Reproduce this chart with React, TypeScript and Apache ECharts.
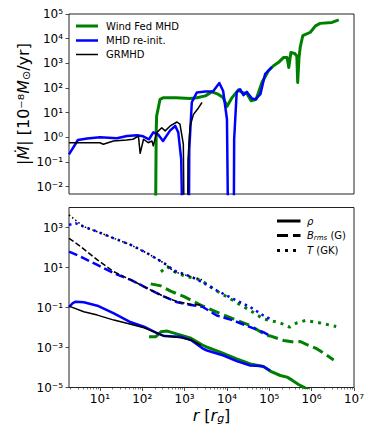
import React, { useEffect, useRef } from "react";
import * as echarts from "echarts";

// All values are log10 values: [log10 r (r_g), log10 quantity]
// ---- Top panel: |Mdot| [1e-8 Msun/yr] ----
const windMdot = [[2.31,-4],[2.33,0.33],[2.34,0.87],[2.42,1.54],[2.49,1.6],[2.8,1.6],[3.13,1.57],[3.29,1.6],[3.49,1.68],[3.64,1.84],[3.79,1.75],[3.91,1.61],[4.0,1.25],[4.12,1.61],[4.27,1.92],[4.35,1.82],[4.47,1.78],[4.57,1.48],[4.69,1.54],[4.83,2.24],[4.98,2.7],[5.1,2.9],[5.22,3.04],[5.34,3.24],[5.42,3.24],[5.46,2.83],[5.51,3.44],[5.6,3.4],[5.65,3.3],[5.67,2.22],[5.7,3.2],[5.73,3.65],[5.79,4.12],[5.97,4.26],[6.09,4.52],[6.2,4.62],[6.48,4.66],[6.64,4.76]];
const reinitMdot = [[0.27,-0.69],[0.48,-0.11],[0.7,-0.05],[1.0,0.0],[1.4,-0.04],[1.64,0.05],[1.88,0.08],[2.02,0.04],[2.16,-0.08],[2.26,0.2],[2.37,0.12],[2.49,-0.15],[2.66,0.28],[2.78,0.46],[2.85,0.2],[2.92,-0.9],[2.95,-4],[3.1,-4],[3.11,-0.49],[3.17,1.42],[3.29,1.82],[3.49,1.86],[3.67,1.86],[3.82,2.2],[3.91,1.88],[4.0,0.73],[4.03,-4],[4.16,-4],[4.17,-0.08],[4.23,1.83],[4.31,1.95],[4.39,1.71],[4.47,1.84],[4.59,1.57],[4.67,1.54],[4.79,1.75],[4.9,2.56],[5.06,2.85]];
const grmhdMdot = [[0.27,-0.22],[1.0,-0.22],[1.08,-0.28],[1.32,-0.15],[1.63,-0.11],[1.78,-0.08],[1.91,0.05],[1.95,-0.65],[2.03,-0.08],[2.14,-0.22],[2.23,-0.15],[2.26,-0.35],[2.34,0.19],[2.46,0.39],[2.54,0.26],[2.66,0.46],[2.82,0.62],[2.89,0.53],[2.97,-0.28],[2.99,-4],[3.07,-4],[3.08,-0.9],[3.13,0.46],[3.21,0.93],[3.33,1.2],[3.41,1.41]];

// ---- Bottom panel: rho, B_rms (G), T (GK) ----
const grmhdRho = [[0.27,-0.93],[0.62,-1.21],[0.94,-1.38],[1.33,-1.63],[1.73,-1.84],[2.04,-2.01],[2.36,-2.29],[2.52,-2.43],[2.91,-2.51],[3.15,-2.63],[3.38,-2.88]];
const grmhdB = [[0.27,2.46],[0.55,2.04],[0.94,1.38],[1.33,0.79],[1.73,0.38],[2.12,-0.04],[2.52,-0.46],[2.83,-0.71],[3.15,-0.84],[3.38,-0.88]];
const grmhdT = [[0.27,3.63],[0.62,3.04],[0.94,2.79],[1.33,2.46],[1.73,2.13],[2.12,1.71],[2.52,1.21],[2.75,0.79],[3.15,0.54],[3.42,0.38]];
const reinitRho = [[0.27,-0.97],[0.36,-0.78],[0.43,-0.71],[0.62,-0.74],[0.94,-0.91],[1.33,-1.29],[1.73,-1.74],[2.04,-1.96],[2.36,-2.29],[2.52,-2.43],[2.91,-2.46],[3.15,-2.63],[3.42,-3.04],[3.53,-3.15],[3.92,-3.4],[4.23,-3.68],[4.55,-3.9],[4.79,-3.92],[4.86,-3.95],[5.02,-4.15]];
const reinitB = [[0.27,1.79],[0.55,1.54],[0.94,1.13],[1.33,0.71],[1.73,0.38],[2.12,-0.04],[2.52,-0.46],[2.83,-0.74],[3.15,-0.88],[3.42,-0.96],[3.76,-1.4],[4.15,-1.65],[4.55,-1.98],[4.86,-2.23],[5.02,-2.42]];
const reinitT = [[0.27,3.13],[0.43,3.21],[0.62,3.04],[0.94,2.79],[1.33,2.46],[1.73,2.13],[2.12,1.71],[2.52,1.21],[2.75,0.85],[3.15,0.54],[3.42,0.26],[3.76,-0.15],[4.15,-0.57],[4.55,-0.98],[4.86,-1.4],[5.02,-1.57]];
const windRho = [[2.16,-2.46],[2.32,-2.46],[2.44,-2.21],[2.59,-2.18],[2.91,-2.38],[3.15,-2.54],[3.42,-2.88],[3.53,-2.98],[3.84,-3.23],[4.23,-3.57],[4.55,-3.82],[4.86,-3.95],[5.02,-4.18],[5.26,-4.4],[5.42,-4.48],[5.53,-4.62],[5.69,-4.85],[5.89,-5.07],[6.05,-5.3]];
const windB = [[2.2,0.18],[2.44,0.08],[2.67,-0.18],[2.99,-0.46],[3.38,-0.88],[3.76,-1.23],[4.15,-1.57],[4.55,-1.9],[4.94,-2.4],[5.02,-2.42],[5.34,-2.65],[5.57,-2.73],[5.73,-2.7],[5.85,-2.82],[6.13,-3.07],[6.52,-3.62]];
const windT = [[2.44,0.79],[2.59,1.04],[2.83,0.71],[3.07,0.54],[3.38,0.38],[3.68,-0.07],[4.08,-0.57],[4.55,-1.15],[4.86,-1.57],[5.26,-1.77],[5.48,-1.98],[5.65,-1.77],[5.85,-1.65],[6.2,-1.77],[6.58,-1.95]];

// Axis ranges (log10) and tick exponents
const X_RANGE = [0.27, 7];
const TOP_Y_RANGE = [-2.3, 5];
const BOT_Y_RANGE = [-5, 4];
const xTickExps = [1, 2, 3, 4, 5, 6, 7];
const topYTickExps = [-2, -1, 0, 1, 2, 3, 4, 5];
const botYTickExps = [-5, -3, -1, 1, 3];

const legendTop = ["Wind Fed MHD", "MHD re-init.", "GRMHD"];

const FONT = "DejaVu Sans";
const GREEN = "#008000";
const BLUE = "#0000ff";
const BLACK = "#000000";
const FRAME = "#222222";

const SUP: Record<string, string> = {
  "0": "⁰", "1": "¹", "2": "²", "3": "³", "4": "⁴", "5": "⁵", "6": "⁶", "7": "⁷", "8": "⁸", "9": "⁹", "-": "⁻",
};
const pow10 = (v: number) =>
  "10" + String(Math.round(v)).split("").map((c) => SUP[c] || c).join("");

// minor tick positions of a log axis (2..9 x 10^n)
const minorTicks: number[] = [];
for (let d = 0; d < 7; d++) {
  for (let k = 2; k <= 9; k++) {
    const v = d + Math.log10(k);
    if (v > X_RANGE[0] && v < X_RANGE[1]) minorTicks.push(v);
  }
}

function line(data: number[][], grid: number, color: string, width: number, dash: any, z: number) {
  return {
    type: "line",
    xAxisIndex: grid === 0 ? 0 : 1,
    yAxisIndex: grid,
    data,
    showSymbol: false,
    symbol: "none",
    clip: true,
    z,
    lineStyle: { color, width, type: dash, cap: "butt", join: "round" },
  };
}

export default function App() {
  const ref = useRef<HTMLDivElement>(null);
  useEffect(() => {
    if (!ref.current) return;
    const chart = echarts.init(ref.current, null, { renderer: "svg" });
    const axisTick = { show: true, length: 3.5, lineStyle: { color: FRAME, width: 0.8 } };
    const tickLabel = { fontFamily: FONT, fontSize: 12, color: "#000" };
    const hiddenLine = { show: false, onZero: false };
    const option: any = {
      animation: false,
      backgroundColor: "#ffffff",
      grid: [
        { left: 69, top: 14, width: 285, height: 180, show: true, borderColor: FRAME, borderWidth: 1, backgroundColor: "transparent" },
        { left: 69, top: 207.5, width: 285, height: 180, show: true, borderColor: FRAME, borderWidth: 1, backgroundColor: "transparent" },
      ],
      xAxis: [
        {
          type: "value", gridIndex: 0, min: X_RANGE[0], max: X_RANGE[1], position: "bottom",
          axisLine: hiddenLine, splitLine: { show: false },
          axisTick: { show: false }, axisLabel: { show: false },
        },
        {
          type: "value", gridIndex: 1, min: X_RANGE[0], max: X_RANGE[1], position: "bottom",
          axisLine: hiddenLine, splitLine: { show: false },
          axisTick: { ...axisTick, customValues: xTickExps },
          axisLabel: { ...tickLabel, margin: 5, customValues: xTickExps, formatter: (v: number) => pow10(v) },
        },
        {
          type: "value", gridIndex: 1, min: X_RANGE[0], max: X_RANGE[1], position: "bottom", offset: 0,
          axisLine: hiddenLine, splitLine: { show: false },
          axisTick: { show: true, length: 2, lineStyle: { color: FRAME, width: 0.6 }, customValues: minorTicks },
          axisLabel: { show: false },
        },
      ],
      yAxis: [
        {
          type: "value", gridIndex: 0, min: TOP_Y_RANGE[0], max: TOP_Y_RANGE[1], position: "left",
          axisLine: hiddenLine, splitLine: { show: false },
          axisTick: { ...axisTick, customValues: topYTickExps },
          axisLabel: { ...tickLabel, margin: 6, customValues: topYTickExps, formatter: (v: number) => pow10(v) },
        },
        {
          type: "value", gridIndex: 1, min: BOT_Y_RANGE[0], max: BOT_Y_RANGE[1], position: "left",
          axisLine: hiddenLine, splitLine: { show: false },
          axisTick: { ...axisTick, customValues: botYTickExps },
          axisLabel: { ...tickLabel, margin: 6, customValues: botYTickExps, formatter: (v: number) => pow10(v) },
        },
      ],
      series: [
        line(windMdot, 0, GREEN, 3, "solid", 2),
        line(reinitMdot, 0, BLUE, 2.5, "solid", 3),
        line(grmhdMdot, 0, BLACK, 1.5, "solid", 4),
        line(windRho, 1, GREEN, 3, "solid", 2),
        line(windB, 1, GREEN, 3, [11, 5], 2),
        line(windT, 1, GREEN, 3, [3, 5], 2),
        line(reinitRho, 1, BLUE, 2.5, "solid", 3),
        line(reinitB, 1, BLUE, 2.5, [9, 4], 3),
        line(reinitT, 1, BLUE, 2.5, [2.5, 4], 3),
        line(grmhdRho, 1, BLACK, 1.5, "solid", 4),
        line(grmhdB, 1, BLACK, 1.5, [5.5, 2.5], 4),
        line(grmhdT, 1, BLACK, 1.5, [1.5, 2.5], 4),
      ],
      graphic: [
        // top legend
        { type: "line", shape: { x1: 76, y1: 26, x2: 98, y2: 26 }, style: { stroke: GREEN, lineWidth: 3 } },
        { type: "line", shape: { x1: 76, y1: 40.5, x2: 98, y2: 40.5 }, style: { stroke: BLUE, lineWidth: 2.5 } },
        { type: "line", shape: { x1: 76, y1: 54.5, x2: 98, y2: 54.5 }, style: { stroke: BLACK, lineWidth: 1.5 } },
        ...legendTop.map((t, i) => ({
          type: "text", x: 106, y: [26, 40.5, 54.5][i],
          style: { text: t, fill: "#000", fontFamily: FONT, fontSize: 10, align: "left", verticalAlign: "middle", textAlign: "left", textVerticalAlign: "middle" },
        })),
        // bottom legend
        { type: "line", shape: { x1: 277, y1: 221, x2: 300.5, y2: 221 }, style: { stroke: BLACK, lineWidth: 3 } },
        { type: "line", shape: { x1: 277, y1: 235.5, x2: 300.5, y2: 235.5 }, style: { stroke: BLACK, lineWidth: 3, lineDash: [11, 5] } },
        { type: "line", shape: { x1: 277, y1: 250.5, x2: 300.5, y2: 250.5 }, style: { stroke: BLACK, lineWidth: 3, lineDash: [3, 5] } },
        {
          type: "text", x: 307, y: 221,
          style: { text: "{i|ρ}", rich: { i: { fontStyle: "italic", fontFamily: FONT, fontSize: 10 } }, fill: "#000", fontFamily: FONT, fontSize: 10, align: "left", verticalAlign: "middle", textAlign: "left", textVerticalAlign: "middle" },
        },
        {
          type: "text", x: 307, y: 235.5,
          style: {
            text: "{i|B}{s|rms} (G)",
            rich: { i: { fontStyle: "italic", fontFamily: FONT, fontSize: 10 }, s: { fontStyle: "italic", fontFamily: FONT, fontSize: 7, padding: [5, 0, 0, 0] } },
            fill: "#000", fontFamily: FONT, fontSize: 10, align: "left", verticalAlign: "middle", textAlign: "left", textVerticalAlign: "middle",
          },
        },
        {
          type: "text", x: 307, y: 250.5,
          style: { text: "{i|T} (GK)", rich: { i: { fontStyle: "italic", fontFamily: FONT, fontSize: 10 } }, fill: "#000", fontFamily: FONT, fontSize: 10, align: "left", verticalAlign: "middle", textAlign: "left", textVerticalAlign: "middle" },
        },
        // y axis title (top panel)
        {
          type: "text", x: 23, y: 104, rotation: Math.PI / 2,
          style: {
            text: "|{i|Ṁ}| [10⁻⁸{i|M}{s|⊙}/yr]",
            rich: { i: { fontStyle: "italic", fontFamily: FONT, fontSize: 16 }, s: { fontFamily: FONT, fontSize: 11, padding: [7, 0, 0, 0] } },
            fill: "#000", fontFamily: FONT, fontSize: 16, align: "center", verticalAlign: "middle", textAlign: "center", textVerticalAlign: "middle",
          },
        },
        // x axis title
        {
          type: "text", x: 211.5, y: 415,
          style: {
            text: "{i|r} [{i|r}{s|g}]",
            rich: { i: { fontStyle: "italic", fontFamily: FONT, fontSize: 16 }, s: { fontStyle: "italic", fontFamily: FONT, fontSize: 11, padding: [7, 0, 0, 0] } },
            fill: "#000", fontFamily: FONT, fontSize: 16, align: "center", verticalAlign: "middle", textAlign: "center", textVerticalAlign: "middle",
          },
        },
      ],
    };
    chart.setOption(option);
    return () => chart.dispose();
  }, []);
  return (
    <div
      ref={ref}
      style={{ position: "absolute", left: 0, top: 0, width: 374, height: 441, background: "#fff" }}
    />
  );
}
